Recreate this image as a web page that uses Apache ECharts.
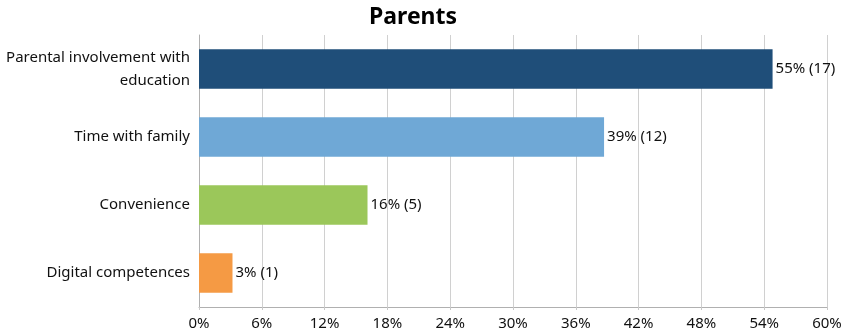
<!DOCTYPE html>
<html>
<head>
<meta charset="utf-8">
<script src="https://cdn.jsdelivr.net/npm/echarts@6/dist/echarts.min.js"></script>
<style>
html,body{margin:0;padding:0;background:#fff;}
#chart{width:851px;height:335px;}
</style>
</head>
<body>
<div id="chart"></div>
<script>
const categories = ["Parental involvement with\neducation", "Time with family", "Convenience", "Digital competences"];
const percents = [54.8, 38.7, 16.1, 3.2];
const counts = [17, 12, 5, 1];
const colors = ["#1F4E79", "#6FA8D6", "#9BC75A", "#F59A44"];
const xTicks = [0, 6, 12, 18, 24, 30, 36, 42, 48, 54, 60];

const font = "'Noto Sans', 'Open Sans', sans-serif";
const chart = echarts.init(document.getElementById('chart'));
chart.setOption({
  animation: false,
  title: {
    text: 'Parents',
    left: 364,
    top: 1,
    textStyle: { fontFamily: font, fontSize: 23, fontWeight: 'bold', color: '#000' }
  },
  grid: { left: 199, right: 24, top: 35, bottom: 28, containLabel: false },
  xAxis: {
    type: 'value',
    min: xTicks[0],
    max: xTicks[xTicks.length - 1],
    interval: 6,
    axisLine: { show: true, lineStyle: { color: '#b0b0b0', width: 1 } },
    axisTick: { show: true, length: 3, lineStyle: { color: '#c8c8c8' } },
    splitLine: { show: true, lineStyle: { color: '#d0d0d0', width: 1 } },
    axisLabel: {
      formatter: v => v + '%',
      fontFamily: font, fontSize: 15, color: '#111', margin: 9
    }
  },
  yAxis: {
    type: 'category',
    inverse: true,
    data: categories,
    axisLine: { show: true, lineStyle: { color: '#b0b0b0', width: 1 } },
    axisTick: { show: false },
    axisLabel: {
      fontFamily: font, fontSize: 15, color: '#111', margin: 9,
      align: 'right', lineHeight: 23
    }
  },
  series: [{
    type: 'bar',
    barCategoryGap: '42%',
    data: percents.map((v, i) => ({ value: v, itemStyle: { color: colors[i] } })),
    label: {
      show: true,
      position: 'right',
      distance: 3,
      fontFamily: font, fontSize: 15, color: '#111',
      formatter: p => Math.round(p.value) + '% (' + counts[p.dataIndex] + ')'
    }
  }]
});
</script>
</body>
</html>
